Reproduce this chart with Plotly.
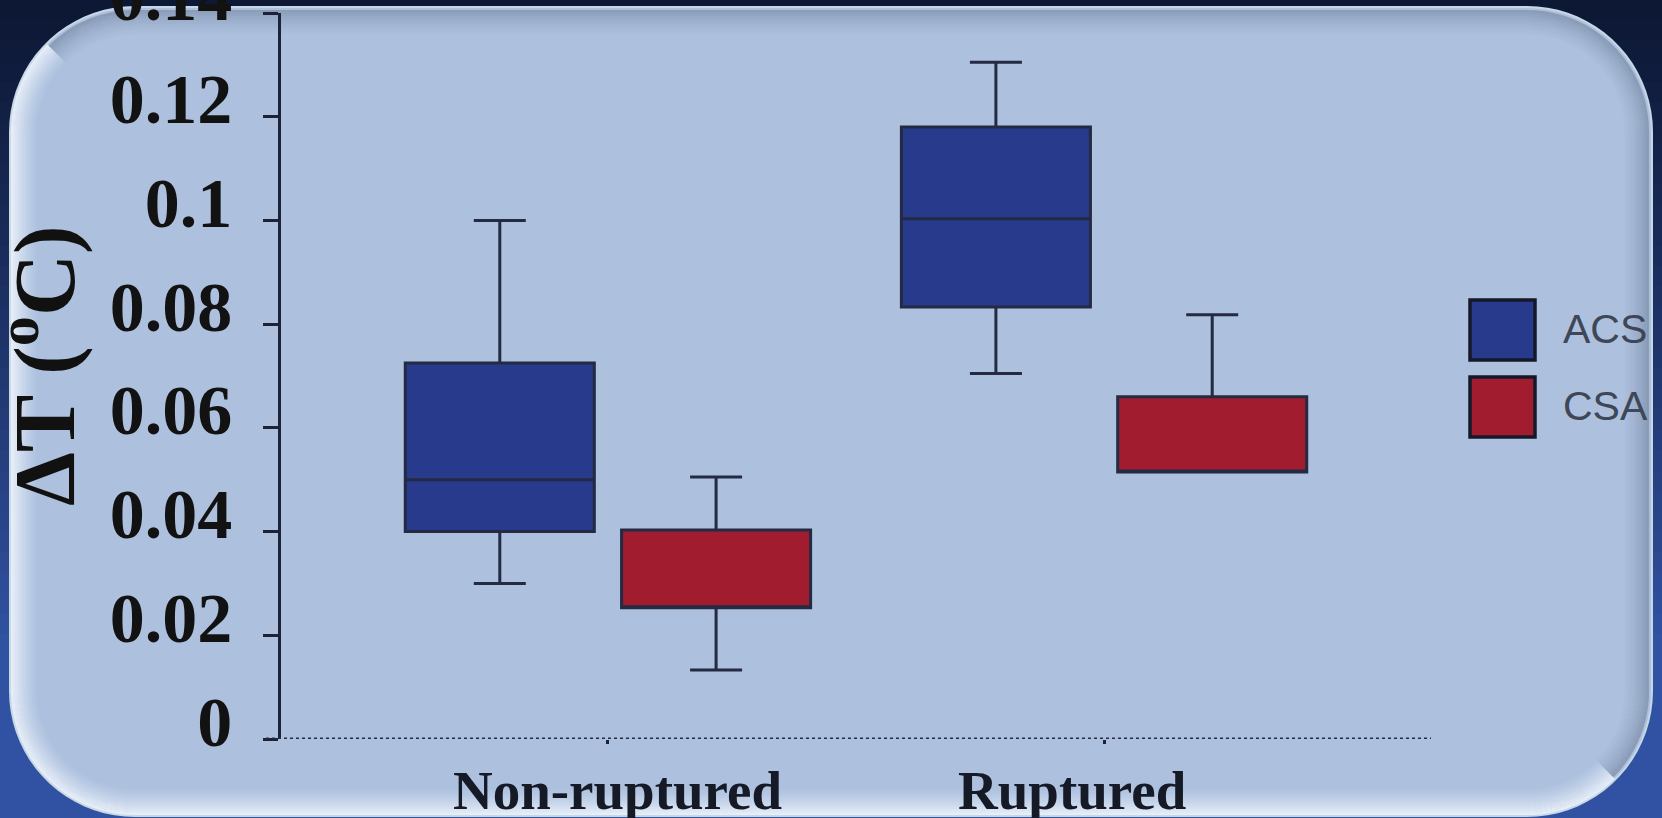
import numpy as np
import plotly.graph_objects as go

W, H = 1662, 818

# ---- data -------------------------------------------------------------
categories = ["Non-ruptured", "Ruptured"]
series_names = ["ACS", "CSA"]
series_colors = ["#283a8c", "#a01c2e"]

acs_lower = [0.030, 0.0705]
acs_q1 = [0.040, 0.0833]
acs_median = [0.050, 0.1003]
acs_q3 = [0.0725, 0.118]
acs_upper = [0.100, 0.1305]

csa_lower = [0.0133, 0.0515]
csa_q1 = [0.0253, 0.0515]
csa_median = [0.0253, 0.0515]
csa_q3 = [0.0403, 0.066]
csa_upper = [0.0505, 0.0818]

y_tickvals = [0, 0.02, 0.04, 0.06, 0.08, 0.10, 0.12, 0.14]
y_ticktext = ["0", "0.02", "0.04", "0.06", "0.08", "0.1", "0.12", "0.14"]

y_title = "ΔT (<sup>o</sup>C)"

# ---- layout geometry (pixels) ------------------------------------------
PL, PR, PT, PB = 281, 1431, 13, 739
INK = "#1c2238"
SERIF = "Liberation Serif, Times New Roman, serif"
SANS = "Liberation Sans, Arial, sans-serif"


def px_x(x):
    return (x - PL) / (PR - PL)


def px_y(y):
    return (PB - y) / (PB - PT)


def to_path(pts, closed=False):
    s = "M " + " L ".join(f"{px_x(x):.5f},{px_y(y):.5f}" for x, y in pts)
    return s + (" Z" if closed else "")


def arc(cx, cy, r, a0, a1, n=20):
    t = np.radians(np.linspace(a0, a1, n))
    return list(zip(cx + r * np.cos(t), cy + r * np.sin(t)))


def panel_outline(x0, y0, x1, y1, r, part="full"):
    tl, tr = (x0 + r, y0 + r), (x1 - r, y0 + r)
    br, bl = (x1 - r, y1 - r), (x0 + r, y1 - r)
    if part == "full":
        return (arc(*tl, r, 180, 270) + arc(*tr, r, 270, 360)
                + arc(*br, r, 0, 90) + arc(*bl, r, 90, 180))
    if part == "light":
        return arc(*tl, r, 225, 180) + arc(*bl, r, 180, 90) + arc(*br, r, 90, 45)
    return arc(*tl, r, 225, 270) + arc(*tr, r, 270, 360) + arc(*br, r, 0, 45)


def mix(c0, c1, t):
    a = [int(c0[i:i + 2], 16) for i in (1, 3, 5)]
    b = [int(c1[i:i + 2], 16) for i in (1, 3, 5)]
    return "rgb(%d,%d,%d)" % tuple(round(a[k] + (b[k] - a[k]) * t) for k in range(3))


shapes = []

# slide background: vertical navy-to-blue gradient
n_bands = 40
for i in range(n_bands):
    y0 = H * i / n_bands
    y1 = H * (i + 1) / n_bands + 1
    t = min(1.0, (i / (n_bands - 1)) / 0.8) ** 1.1
    shapes.append(dict(type="rect", xref="paper", yref="paper", layer="below",
                       x0=px_x(0), x1=px_x(W), y0=px_y(y0), y1=px_y(y1),
                       fillcolor=mix("#0d1835", "#3152a2", t), line_width=0))

# rounded light-blue panel with bevelled rim
P = (10, 7, 1652, 816, 125)
shapes.append(dict(type="path", xref="paper", yref="paper", layer="below",
                   path=to_path(panel_outline(*P), True),
                   fillcolor="#adc1df", line=dict(color="#c6d8e4", width=2)))
for d in range(2, 28, 2):
    x0, y0, x1, y1, r = P
    inner = (x0 + d, y0 + d, x1 - d, y1 - d, r - d)
    op = 0.85 * (1 - d / 28) ** 1.3
    shapes.append(dict(type="path", xref="paper", yref="paper", layer="below",
                       path=to_path(panel_outline(*inner, "light")),
                       fillcolor="rgba(0,0,0,0)",
                       line=dict(color="#f6faff", width=2.2), opacity=op))
    if d >= 4:
        op2 = 0.5 * (1 - d / 30) ** 1.5
        shapes.append(dict(type="path", xref="paper", yref="paper", layer="below",
                           path=to_path(panel_outline(*inner, "dark")),
                           fillcolor="rgba(0,0,0,0)",
                           line=dict(color="#5a6a82", width=2.2), opacity=op2))

# dotted baseline along y = 0
shapes.append(dict(type="line", xref="paper", yref="y", x0=px_x(266), x1=1.0,
                   y0=0, y1=0, line=dict(color="#262c40", width=3, dash="dot")))

# legend swatches
legend_x0, legend_x1 = 1470, 1535
legend_rows = [(300, 360), (377, 437)]
annotations = []
for name, color, (ly0, ly1) in zip(series_names, series_colors, legend_rows):
    shapes.append(dict(type="rect", xref="paper", yref="paper",
                       x0=px_x(legend_x0), x1=px_x(legend_x1),
                       y0=px_y(ly1), y1=px_y(ly0),
                       fillcolor=color, line=dict(color="#14182a", width=3.5)))
    annotations.append(dict(xref="paper", yref="paper", x=px_x(1561),
                            y=px_y((ly0 + ly1) / 2 - 1), xanchor="left",
                            yanchor="middle", showarrow=False, text=name,
                            font=dict(family=SANS, size=41, color="#3f4656")))

# category labels under the baseline
label_xshift = [10, -32]
for cat, dx in zip(categories, label_xshift):
    annotations.append(dict(xref="x", yref="y", x=cat, y=0, xshift=dx,
                            yshift=-51, xanchor="center", yanchor="middle",
                            showarrow=False, text=cat,
                            font=dict(family=SERIF, size=55, color="#161a26",
                                      weight=700)))

# y-axis title
annotations.append(dict(xref="paper", yref="paper", x=px_x(38), y=px_y(366),
                        xanchor="center", yanchor="middle", textangle=-90,
                        showarrow=False, text=y_title,
                        font=dict(family=SERIF, size=86, color="#111111",
                                  weight=700)))

# ---- figure -----------------------------------------------------------
fig = go.Figure()
stats = [
    (acs_lower, acs_q1, acs_median, acs_q3, acs_upper),
    (csa_lower, csa_q1, csa_median, csa_q3, csa_upper),
]
for name, color, (lf, q1, med, q3, uf) in zip(series_names, series_colors, stats):
    fig.add_trace(go.Box(
        name=name, x=categories, lowerfence=lf, q1=q1, median=med, q3=q3,
        upperfence=uf, fillcolor=color, line=dict(color="#232a42", width=3),
        whiskerwidth=0.275, boxpoints=False, showlegend=False,
        hoverinfo="skip",
    ))

fig.update_layout(
    width=W, height=H,
    margin=dict(l=PL, r=W - PR, t=PT, b=H - PB, autoexpand=False),
    paper_bgcolor="#0d1835", plot_bgcolor="rgba(0,0,0,0)",
    boxmode="group", boxgap=0.128, boxgroupgap=0.126,
    showlegend=False, shapes=shapes, annotations=annotations,
    xaxis=dict(type="category", categoryorder="array", categoryarray=categories,
               range=[-0.659, 1.659], showgrid=False, zeroline=False,
               showline=False, ticks="outside", ticklen=4, tickwidth=3,
               tickcolor=INK, showticklabels=False, fixedrange=True),
    yaxis=dict(range=[0, 0.14], tickvals=y_tickvals, ticktext=y_ticktext,
               showgrid=False, zeroline=False, showline=True, linecolor=INK,
               linewidth=2.5, ticks="outside", ticklen=15, tickwidth=2.5,
               tickcolor=INK, ticklabelstandoff=17, ticklabelshift=-18,
               ticklabeloverflow="allow",
               tickfont=dict(family=SERIF, size=70, color="#121212", weight=700),
               fixedrange=True),
)

fig.write_html("out.html")
